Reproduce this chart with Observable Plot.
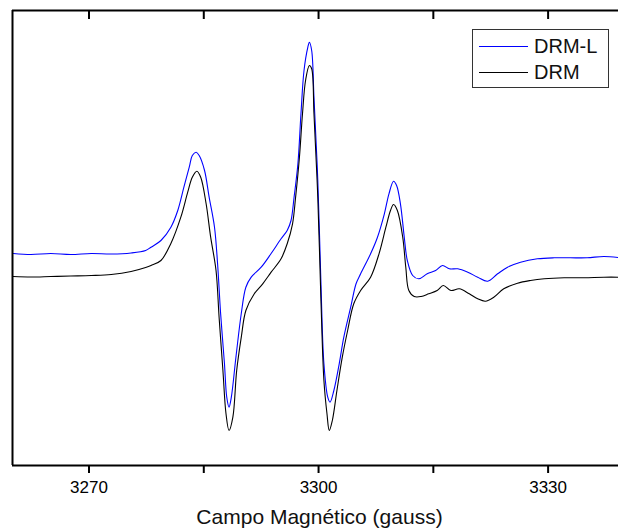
<!DOCTYPE html>
<html>
<head>
<meta charset="utf-8">
<script src="https://cdn.jsdelivr.net/npm/d3@7"></script>
<script src="https://cdn.jsdelivr.net/npm/@observablehq/plot@0.6"></script>
<style>
  html, body { margin: 0; padding: 0; background: #fff; overflow: hidden; }
  #wrap { position: relative; width: 618px; height: 530px; font-family: "Liberation Sans", Arial, sans-serif; }
  #legend { position: absolute; left: 472px; top: 29px; width: 137px; height: 59px; box-sizing: border-box;
            border: 1.5px solid #333; background: #fff; }
  #legend .sw { position: absolute; left: 6px; width: 49px; height: 1.2px; }
  #legend .lb { position: absolute; left: 61px; height: 24px; line-height: 24px; font-size: 20px; color: #111; }
</style>
</head>
<body>
<div id="wrap"></div>
<script>
// Magnetic field (gauss) and signal (arbitrary units)
const fieldDRML = [3260.1,3262.4,3265.0,3267.6,3270.3,3272.9,3275.5,3277.4,3278.1,3279.4,
  3280.7,3281.6,3282.4,3283.1,3283.5,3284.0,3284.4,3285.1,3285.7,3286.4,
  3286.8,3287.2,3287.7,3288.0,3288.3,3288.6,3289.2,3289.9,3290.5,3291.2,
  3292.5,3293.8,3295.1,3295.9,3296.4,3296.8,3297.3,3297.7,3298.1,3298.6,
  3298.8,3299.1,3299.4,3299.9,3300.3,3300.7,3301.2,3301.5,3302.0,3302.7,
  3303.3,3304.2,3304.9,3305.5,3306.8,3307.7,3308.6,3309.2,3309.8,3310.2,
  3310.7,3311.2,3311.6,3312.3,3313.1,3314.2,3315.3,3316.2,3317.1,3318.2,
  3319.5,3320.8,3322.1,3323.4,3324.7,3326.4,3328.6,3330.8,3332.9,3335.1,
  3337.3,3339.5];
const signalDRML = [210,209,210,209,210,209.5,210.5,213,216.3,223,
  236.3,253,276.3,296.3,308,311.3,308,293,266.3,236.3,
  200,150,100,66.3,56.3,66.3,106.3,150,176.3,186.3,
  196.3,210,224.7,233,243,266.3,299.7,349.7,393,416.3,
  421.3,413,366.3,283,183,99.7,66.3,61.3,73,99.7,
  126.3,156.3,179.7,189.7,209.7,226.3,249.7,269.7,282.3,278,
  259.7,226.3,203,188,184.7,189.7,193,198,194.7,194.7,
  191.3,186.3,182.3,189.7,196.3,201.3,204.7,205.7,205.7,205.7,
  207,205.7];

const fieldDRM = [3260.1,3262.4,3265.0,3267.6,3270.3,3272.9,3275.5,3277.4,3278.1,3279.4,
  3280.7,3282.0,3282.9,3283.5,3284.1,3284.6,3285.3,3285.9,3286.6,3287.0,
  3287.5,3287.9,3288.3,3288.8,3289.3,3289.9,3290.5,3291.6,3292.7,3293.8,
  3295.1,3295.9,3296.6,3297.0,3297.5,3297.9,3298.3,3298.8,3299.1,3299.4,
  3299.9,3300.3,3300.7,3301.1,3301.4,3301.8,3302.4,3303.1,3303.8,3304.6,
  3305.5,3306.8,3307.9,3308.8,3309.4,3309.8,3310.3,3311.0,3311.4,3311.8,
  3312.5,3313.4,3314.4,3315.5,3316.3,3317.3,3318.4,3319.7,3320.8,3321.8,
  3322.9,3324.2,3326.0,3327.7,3329.5,3332.1,3334.7,3337.3,3339.5];
const signalDRM = [187,186.5,187,187.5,188,189,192,196,198,203,
  220,246.3,271.3,286.3,292.3,286.3,260,226.3,193,146.3,
  93,50,33,46.3,93,126.3,153,169.7,179.7,191.3,
  204.7,219.7,239.7,266.3,306.3,349.7,383,398,394.7,349.7,
  266.3,166.3,83,49.7,33,43,73,106.3,133,159.7,
  173,186.3,209.7,236.3,253,259,253,226.3,196.3,173,
  167,167,169.7,173,178,173,174.7,169.7,164.7,162.3,
  166.3,174.7,180.3,183,184.7,185.7,185.7,186.3,186.3];

const seriesNames = ["DRM-L", "DRM"];
const seriesColors = ["#0000ff", "#000000"];
const xTicks = [3270, 3285, 3300, 3315, 3330];
const xTickLabels = [3270, 3300, 3330];
const xTitle = "Campo Magnético (gauss)";
const xDomain = [3260, 3339.2];
const yDomain = [-2, 453];

const drmL = fieldDRML.map((f, i) => ({field: f, signal: signalDRML[i]}));
const drm = fieldDRM.map((f, i) => ({field: f, signal: signalDRM[i]}));

const font = '"Liberation Sans", Arial, sans-serif';

const chart = Plot.plot({
  width: 618,
  height: 530,
  marginLeft: 12,
  marginRight: 0,
  marginTop: 10,
  marginBottom: 65,
  style: {fontFamily: font, background: "#fff", color: "#000", overflow: "visible"},
  x: {domain: xDomain},
  y: {domain: yDomain, axis: null},
  marks: [
    Plot.line(drmL, {x: "field", y: "signal", stroke: seriesColors[0], strokeWidth: 1.1, curve: "catmull-rom", clip: true}),
    Plot.line(drm, {x: "field", y: "signal", stroke: seriesColors[1], strokeWidth: 1.1, curve: "catmull-rom", clip: true}),
    Plot.ruleX([xDomain[0]], {stroke: "#000", strokeWidth: 2}),
    Plot.ruleY([yDomain[0], yDomain[1]], {stroke: "#000", strokeWidth: 2}),
    Plot.axisX({anchor: "bottom", ticks: xTicks, tickSize: 8, tickPadding: 7, strokeWidth: 2,
      tickFormat: d => xTickLabels.includes(d) ? String(d) : "", fontSize: 17, label: null}),
    Plot.axisX({anchor: "top", ticks: xTicks, tickSize: 8, dy: 8, strokeWidth: 2,
      tickFormat: () => "", label: null}),
    Plot.text([xTitle], {frameAnchor: "bottom", text: d => d, dy: 52, dx: 4, fontSize: 21, lineAnchor: "middle", fill: "#111"})
  ]
});

const wrap = document.getElementById("wrap");
wrap.appendChild(chart);

const legend = document.createElement("div");
legend.id = "legend";
seriesNames.forEach((name, i) => {
  const sw = document.createElement("div");
  sw.className = "sw";
  sw.style.top = (i === 0 ? 15.5 : 41.5) + "px";
  sw.style.background = seriesColors[i];
  legend.appendChild(sw);
  const lb = document.createElement("div");
  lb.className = "lb";
  lb.style.top = (i === 0 ? 3.5 : 30) + "px";
  lb.textContent = name;
  legend.appendChild(lb);
});
wrap.appendChild(legend);
</script>
</body>
</html>
